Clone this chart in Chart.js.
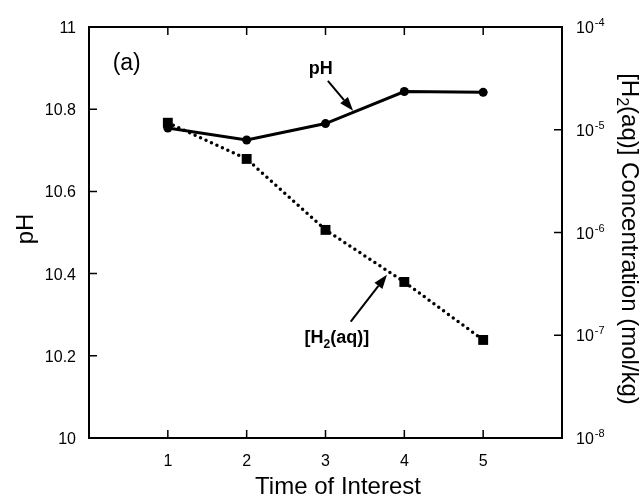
<!DOCTYPE html>
<html>
<head>
<meta charset="utf-8">
<script src="https://cdn.jsdelivr.net/npm/chart.js@4.4.0/dist/chart.umd.min.js"></script>
<style>
  html, body { margin: 0; background: #fff; }
  #wrap { width: 643px; height: 496px; }
</style>
</head>
<body>
<div id="wrap"><canvas id="c"></canvas></div>
<script>
// data
const times = [1, 2, 3, 4, 5];
const pH = [10.754, 10.725, 10.765, 10.843, 10.841];
const h2Conc = [1.17e-5, 5.2e-6, 1.06e-6, 3.3e-7, 9.0e-8];
const xTicks = [1, 2, 3, 4, 5];
const pHTicks = [10, 10.2, 10.4, 10.6, 10.8, 11];
const concExponents = [-8, -7, -6, -5, -4];

const FONT = '"Liberation Sans", Arial, sans-serif';

function arrow(ctx, x0, y0, x1, y1) {
  const a = Math.atan2(y1 - y0, x1 - x0);
  const hl = 14, hw = 5;
  const bx = x1 - hl * Math.cos(a), by = y1 - hl * Math.sin(a);
  ctx.beginPath();
  ctx.moveTo(x0, y0);
  ctx.lineTo(bx, by);
  ctx.stroke();
  ctx.beginPath();
  ctx.moveTo(x1, y1);
  ctx.lineTo(bx + hw * Math.sin(a), by - hw * Math.cos(a));
  ctx.lineTo(bx - hw * Math.sin(a), by + hw * Math.cos(a));
  ctx.closePath();
  ctx.fill();
}

// frame, inward ticks, labels and annotations
const decor = {
  id: 'decor',
  afterDraw(chart) {
    const ctx = chart.ctx;
    const a = chart.chartArea;
    const sx = chart.scales.x, sy = chart.scales.y, sy1 = chart.scales.y1;
    const tl = 8;
    ctx.save();
    ctx.strokeStyle = '#000';
    ctx.fillStyle = '#000';
    ctx.lineWidth = 2;
    ctx.strokeRect(a.left, a.top, a.right - a.left, a.bottom - a.top);

    ctx.lineWidth = 1.5;
    ctx.beginPath();
    xTicks.forEach(v => {
      const px = sx.getPixelForValue(v);
      ctx.moveTo(px, a.bottom); ctx.lineTo(px, a.bottom - tl);
      ctx.moveTo(px, a.top); ctx.lineTo(px, a.top + tl);
    });
    pHTicks.forEach(v => {
      const py = sy.getPixelForValue(v);
      ctx.moveTo(a.left, py); ctx.lineTo(a.left + tl, py);
    });
    concExponents.forEach(e => {
      const py = sy1.getPixelForValue(Math.pow(10, e));
      ctx.moveTo(a.right, py); ctx.lineTo(a.right - tl, py);
    });
    ctx.stroke();

    // tick labels
    ctx.font = '16px ' + FONT;
    ctx.textBaseline = 'alphabetic';
    ctx.textAlign = 'center';
    xTicks.forEach(v => ctx.fillText(String(v), sx.getPixelForValue(v), a.bottom + 28));
    ctx.textAlign = 'right';
    pHTicks.forEach(v => {
      const txt = Number.isInteger(v) ? String(v) : v.toFixed(1);
      ctx.fillText(txt, a.left - 13, sy.getPixelForValue(v) + 6);
    });
    ctx.textAlign = 'left';
    concExponents.forEach(e => {
      const py = sy1.getPixelForValue(Math.pow(10, e));
      const x0 = a.right + 14;
      ctx.font = '16px ' + FONT;
      ctx.fillText('10', x0, py + 6);
      const w = ctx.measureText('10').width;
      ctx.font = '11px ' + FONT;
      ctx.fillText(String(e), x0 + w + 1, py - 1);
    });

    // axis titles
    ctx.font = '24px ' + FONT;
    ctx.textAlign = 'center';
    ctx.fillText('Time of Interest', 338, 494);
    ctx.save();
    ctx.translate(33, 229);
    ctx.rotate(-Math.PI / 2);
    ctx.fillText('pH', 0, 0);
    ctx.restore();

    ctx.save();
    ctx.translate(622, 239);
    ctx.rotate(Math.PI / 2);
    ctx.textAlign = 'left';
    const big = '24px ' + FONT, small = '16px ' + FONT;
    ctx.font = big;
    const w1 = ctx.measureText('[H').width;
    const w3 = ctx.measureText('(aq)] Concentration (mol/kg)').width;
    ctx.font = small;
    const w2 = ctx.measureText('2').width;
    let x = -(w1 + w2 + w3) / 2;
    ctx.font = big; ctx.fillText('[H', x, 0); x += w1;
    ctx.font = small; ctx.fillText('2', x, 5); x += w2;
    ctx.font = big; ctx.fillText('(aq)] Concentration (mol/kg)', x, 0);
    ctx.restore();

    // annotations
    ctx.textAlign = 'left';
    ctx.font = '23px ' + FONT;
    ctx.fillText('(a)', sx.getPixelForValue(0.3), sy.getPixelForValue(10.896));

    ctx.font = 'bold 18px ' + FONT;
    ctx.textAlign = 'center';
    ctx.fillText('pH', sx.getPixelForValue(2.94), sy.getPixelForValue(10.886));
    ctx.lineWidth = 2;
    arrow(ctx, sx.getPixelForValue(3.03), sy.getPixelForValue(10.869),
               sx.getPixelForValue(3.35), sy.getPixelForValue(10.796));

    ctx.textAlign = 'left';
    let lx = sx.getPixelForValue(2.735);
    const ly = sy.getPixelForValue(10.231);
    ctx.font = 'bold 18px ' + FONT;
    ctx.fillText('[H', lx, ly); lx += ctx.measureText('[H').width;
    ctx.font = 'bold 12px ' + FONT;
    ctx.fillText('2', lx, ly + 5); lx += ctx.measureText('2').width;
    ctx.font = 'bold 18px ' + FONT;
    ctx.fillText('(aq)]', lx, ly);
    arrow(ctx, sx.getPixelForValue(3.32), sy.getPixelForValue(10.283),
               sx.getPixelForValue(3.78), sy.getPixelForValue(10.397));
    ctx.restore();
  }
};

new Chart(document.getElementById('c'), {
  type: 'line',
  data: {
    labels: times,
    datasets: [
      {
        label: '[H2(aq)]',
        data: times.map((t, i) => ({ x: t, y: h2Conc[i] })),
        yAxisID: 'y1',
        borderColor: '#000',
        backgroundColor: '#000',
        borderWidth: 3.5,
        borderDash: [0, 6],
        borderCapStyle: 'round',
        pointStyle: 'rect',
        pointRadius: 7,
        pointBorderWidth: 0,
        tension: 0
      },
      {
        label: 'pH',
        data: times.map((t, i) => ({ x: t, y: pH[i] })),
        yAxisID: 'y',
        borderColor: '#000',
        backgroundColor: '#000',
        borderWidth: 3,
        pointStyle: 'circle',
        pointRadius: 4.5,
        pointBorderWidth: 0,
        tension: 0
      }
    ]
  },
  options: {
    responsive: true,
    maintainAspectRatio: false,
    animation: false,
    layout: { padding: { left: 89, right: 81, top: 27, bottom: 58 } },
    plugins: { legend: { display: false }, tooltip: { enabled: false } },
    scales: {
      x: { type: 'linear', min: 0, max: 6, display: false },
      y: { type: 'linear', min: 10, max: 11, display: false },
      y1: { type: 'logarithmic', min: 1e-8, max: 1e-4, display: false }
    }
  },
  plugins: [decor]
});
</script>
</body>
</html>
